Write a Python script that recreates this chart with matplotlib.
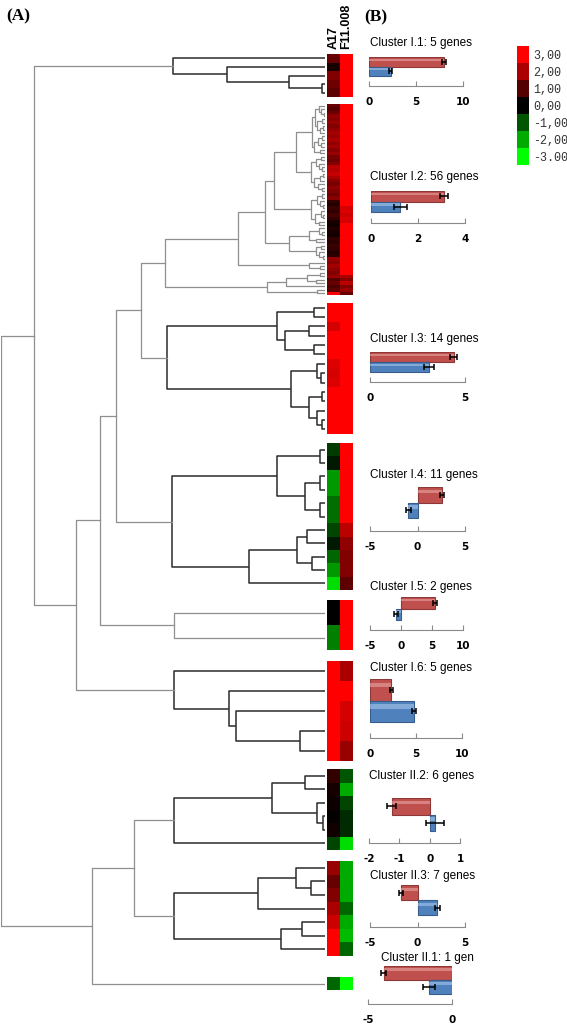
import numpy as np
import matplotlib
matplotlib.use('Agg')
import matplotlib.pyplot as plt
from matplotlib.colors import LinearSegmentedColormap

plt.rcParams['axes.unicode_minus'] = False

W, H = 567, 1028

# ---- data ----
cluster_names = ['I.1', 'I.2', 'I.3', 'I.4', 'I.5', 'I.6', 'II.2', 'II.3', 'II.1']
cluster_titles = ['Cluster I.1: 5 genes', 'Cluster I.2: 56 genes', 'Cluster I.3: 14 genes',
                  'Cluster I.4: 11 genes', 'Cluster I.5: 2 genes', 'Cluster I.6: 5 genes',
                  'Cluster II.2: 6 genes', 'Cluster II.3: 7 genes', 'Cluster II.1: 1 gen']
columns = ['A17', 'F11.008']

# heatmap values per gene (rows of each cluster)
a17_values = [
    [1.2, 0.3, 1.5, 1.3, 1.1],
    [1.2, 1.0, 1.3, 1.7, 1.6, 1.8, 1.5, 1.7, 1.9, 1.8, 2.0, 1.7, 1.9, 1.6, 1.8,
     1.4, 1.3, 1.5, 2.2, 2.1, 2.3, 2.0, 1.6, 1.4, 1.7, 1.5, 1.3, 1.6,
     0.6, 0.4, 0.7, 0.5, 0.8, 0.6, 0.3, 0.2, 0.4, 0.3, 0.2,
     0.6, 0.5, 0.7, 0.6, 0.4, 0.5, 1.8, 1.6, 1.9, 1.7, 1.5, 1.8,
     1.0, 1.2, 0.9, 1.1, 3.0],
    [3.0, 3.0, 2.5, 3.0, 3.0, 3.0, 2.6, 2.5, 2.6, 3.0, 3.0, 3.0, 3.0, 3.0],
    [-0.7, -0.3, -1.8, -1.8, -1.3, -1.3, -0.8, -0.3, -1.2, -1.8, -2.6],
    [0.0, -1.5],
    [3.0, 3.0, 3.0, 3.0, 3.0],
    [0.6, 0.25, 0.15, 0.05, 0.2, -0.8],
    [1.8, 1.2, 1.5, 2.0, 2.4, 3.0, 3.0],
    [-1.2],
]
f11_values = [
    [3.0, 3.0, 3.0, 3.0, 3.0],
    [3.0, 3.0, 3.0, 3.0, 3.0, 3.0, 3.0, 3.0, 3.0, 3.0, 3.0, 3.0, 3.0, 3.0, 3.0,
     3.0, 3.0, 3.0, 3.0, 3.0, 3.0, 3.0, 3.0, 3.0, 3.0, 3.0, 3.0, 3.0, 3.0, 3.0,
     2.5, 2.6, 2.4, 2.6, 2.5,
     3.0, 3.0, 3.0, 3.0, 3.0, 3.0, 3.0, 3.0, 3.0, 3.0, 3.0, 3.0, 3.0, 3.0, 3.0,
     2.0, 1.6, 2.2, 1.5, 1.8, 1.2],
    [3.0, 3.0, 3.0, 3.0, 3.0, 3.0, 3.0, 3.0, 3.0, 3.0, 3.0, 3.0, 3.0, 3.0],
    [3.0, 3.0, 3.0, 3.0, 3.0, 3.0, 2.2, 1.7, 1.5, 1.5, 1.1],
    [3.0, 3.0],
    [2.0, 3.0, 2.5, 2.4, 1.8],
    [-1.0, -2.0, -0.8, -0.5, -0.5, -2.6],
    [-2.0, -2.0, -2.0, -1.2, -2.0, -2.2, -1.2],
    [-3.0],
]

# bar charts: mean and error (red = F11.008, blue = A17)
f11_mean = [8.0, 3.1, 4.4, 2.6, 5.5, 2.3, -1.25, -1.7, -4.05]
f11_err = [0.2, 0.17, 0.2, 0.2, 0.3, 0.15, 0.15, 0.2, 0.15]
a17_mean = [2.3, 1.25, 3.1, -0.95, -0.8, 4.8, 0.17, 2.1, -1.35]
a17_err = [0.12, 0.28, 0.28, 0.25, 0.3, 0.2, 0.3, 0.3, 0.35]
x_limits = [(0, 10), (0, 4), (0, 5), (-5, 5), (-5, 10), (0, 10), (-2, 1), (-5, 5), (-5, 0)]
x_ticks = [[0, 5, 10], [0, 2, 4], [0, 5], [-5, 0, 5], [-5, 0, 5, 10], [0, 5, 10],
           [-2, -1, 0, 1], [-5, 0, 5], [-5, 0]]

# dendrogram: (height, left, right), None = gene leaf
L = None
cluster_trees = [
    (152, L, (98, L, (36, L, (3, L, L)))),
    (160,
     (87,
      (60,
       (51,
        (29,
         (13, (10, (6, L, (4, L, (1, L, L))), (8, (3, L, L), (5, (2, L, L), L))),
              (11, (7, (3, L, L), (4, L, L)), (5, L, L))),
         (14, (9, (4, L, L), (6, L, (3, L, L))), (11, (5, (2, L, L), L), (7, L, (3, L, L))))),
        (14, (8, (3, L, L), (5, L, (2, L, L))), (10, (4, L, (2, L, L)), (6, L, L)))),
       (36, (16, (6, L, (3, L, L)), (9, L, L)), (9, (4, L, L), (6, L, (2, L, L))))),
      (16, L, (5, L, L))),
     (58, (39, (18, (5, L, L), (9, L, L)), L), (8, L, L))),
    (158, (48, (11, L, L), (40, (16, L, L), (11, L, L))),
     (34, (8, L, (4, L, L)), (16, (3, L, L), (8, L, (3, L, L))))),
    (153, (48, (5, L, L), (20, (5, L, L), (5, L, L))),
     (76, (28, (18, L, L), (13, L, L)), L)),
    (151, L, L),
    (151, L, (96, L, (89, L, (25, L, L)))),
    (151, (53, (20, L, L), (8, L, (2, L, L))), L),
    (151, (67, (29, L, (14, L, L)), L), (44, (23, L, L), L)),
    L,
]
# upper tree, ints refer to clusters
upper_tree = (324, (291, 0, (249, (225, (209, (184, 1, 2), 3), 4), 5)),
              (233, (191, 6, 7), 8))
dark_clusters = [0, 2, 3, 5, 6, 7]

legend_values = [3, 2, 1, 0, -1, -2, -3]
legend_labels = ['3,00', '2,00', '1,00', '0,00', '-1,00', '-2,00', '-3.00']

# ---- layout (pixels) ----
block_top = [54, 104, 303, 443, 600, 661, 769, 861, 977]
block_bot = [97, 295, 434, 590, 650, 761, 850, 956, 990]
bar_x0 = [369, 371, 370, 370, 370, 370, 369, 370, 368]
bar_x1 = [463, 465, 465, 465, 463, 462, 460, 465, 452]
bar_top = [57, 191, 352, 487, 597, 679, 798, 885, 966]
bar_bot = [76, 212, 372, 518, 620, 722, 831, 915, 994]
axis_y = [86, 223, 382, 531, 630, 738, 843, 927, 1004]
title_x = [370, 370, 370, 370, 370, 370, 369, 370, 381]
title_y = [43, 177, 339, 475, 587, 668, 776, 876, 958]


def rect(x0, y0, x1, y1):
    return [x0 / W, 1 - y1 / H, (x1 - x0) / W, (y1 - y0) / H]


cmap = LinearSegmentedColormap.from_list('gbr', ['#00ff00', '#000000', '#ff0000'])
fig = plt.figure(figsize=(W / 100, H / 100), dpi=100)

# dendrogram
axd = fig.add_axes(rect(1, 0, 325, H))
axd.set_xlim(324, 0)
axd.set_ylim(H, 0)
axd.axis('off')


def draw(node, leaves, color):
    if node is None:
        return next(leaves), 0
    h, left, right = node
    y1, h1 = draw(left, leaves, color)
    y2, h2 = draw(right, leaves, color)
    axd.plot([h1, h, h, h2], [y1, y1, y2, y2], color=color,
             lw=1.1 if color != '#8f8f8f' else 0.9, solid_capstyle='butt')
    return (y1 + y2) / 2, h


def draw_upper(node):
    if isinstance(node, int):
        n = len(a17_values[node])
        step = (block_bot[node] - block_top[node]) / n
        leaves = iter([block_top[node] + (k + 0.5) * step for k in range(n)])
        col = '#2b2b2b' if node in dark_clusters else '#8f8f8f'
        return draw(cluster_trees[node], leaves, col)
    h, left, right = node
    y1, h1 = draw_upper(left)
    y2, h2 = draw_upper(right)
    axd.plot([h1, h, h, h2], [y1, y1, y2, y2], color='#8f8f8f', lw=0.9)
    return (y1 + y2) / 2, h


draw_upper(upper_tree)

# heatmap
axh = fig.add_axes(rect(327, 0, 353, H))
axh.set_xlim(0, 2)
axh.set_ylim(H, 0)
axh.axis('off')
for c in range(len(cluster_names)):
    vals = np.column_stack([a17_values[c], f11_values[c]])
    ys = np.linspace(block_top[c], block_bot[c], len(vals) + 1)
    axh.pcolormesh([0, 1, 2], ys, vals, cmap=cmap, vmin=-3, vmax=3)

for j, name in enumerate(columns):
    fig.text((333.5 + 13 * j) / W, 1 - 49 / H, name, rotation=90, ha='center', va='bottom',
             fontsize=9, fontweight='bold', family='Liberation Sans')

fig.text(6 / W, 1 - 16 / H, '(A)', fontsize=12.5, fontweight='bold',
         family='Liberation Serif', va='center')
fig.text(364 / W, 1 - 17 / H, '(B)', fontsize=12.5, fontweight='bold',
         family='Liberation Serif', va='center')

# legend
axl = fig.add_axes(rect(517, 46, 529, 165))
axl.imshow(np.array(legend_values)[:, None], cmap=cmap, vmin=-3, vmax=3, aspect='auto')
axl.set_xticks([])
axl.set_yticks(range(len(legend_labels)))
axl.set_yticklabels(legend_labels, family='Liberation Mono', fontsize=8.5, color='#333333')
axl.yaxis.tick_right()
axl.tick_params(length=0, pad=3)
for s in axl.spines.values():
    s.set_visible(False)

# bar charts
for i in range(len(cluster_names)):
    ax = fig.add_axes(rect(bar_x0[i], bar_top[i], bar_x1[i], axis_y[i]))
    bh = (bar_bot[i] - bar_top[i]) / 2
    gap = (axis_y[i] - bar_bot[i]) / bh
    ax.barh([1, 0], [f11_mean[i], a17_mean[i]], height=1,
            color=['#c0504d', '#4f81bd'], edgecolor=['#8c3836', '#385d8a'], lw=0.8,
            xerr=[f11_err[i], a17_err[i]],
            error_kw=dict(ecolor='black', elinewidth=1.1, capsize=2.5, capthick=1.1))
    ax.barh([1.22, 0.22], [f11_mean[i], a17_mean[i]], height=0.22,
            color=['#e8a6a4', '#a9c6ea'], lw=0, alpha=0.6)
    ax.set_xlim(*x_limits[i])
    ax.set_ylim(-0.5 - gap, 1.5)
    ax.set_xticks(x_ticks[i])
    ax.set_yticks([])
    for s in ['top', 'left', 'right']:
        ax.spines[s].set_visible(False)
    ax.spines['bottom'].set_color('#8a8a8a')
    ax.tick_params(axis='x', direction='in', length=3.5, color='#8a8a8a', pad=8,
                   labelsize=7.5)
    for t in ax.get_xticklabels():
        t.set_fontweight('bold')
        t.set_family('DejaVu Sans')
    ax.patch.set_alpha(0)
    fig.text(title_x[i] / W, 1 - title_y[i] / H, cluster_titles[i], fontsize=8.5,
             family='Liberation Sans', va='center', ha='left')

fig.savefig('out.png', dpi=100)
